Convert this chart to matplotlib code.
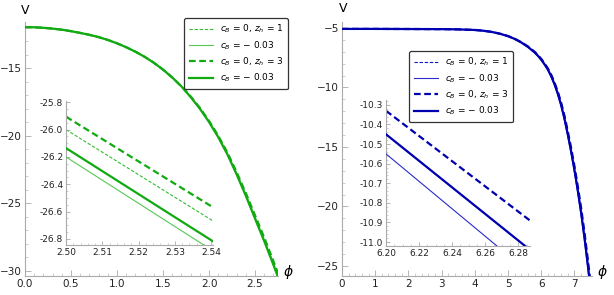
import matplotlib
matplotlib.use("Agg")
import matplotlib.pyplot as plt
from matplotlib.ticker import MultipleLocator, FormatStrFormatter

# ---- data ----
# left panel (green)
phi_L = [0.0, 0.1, 0.2, 0.3, 0.4, 0.5, 0.6, 0.7, 0.8, 0.9, 1.0, 1.1, 1.2, 1.3, 1.4,
         1.5, 1.6, 1.7, 1.8, 1.9, 2.0, 2.1, 2.2, 2.3, 2.4, 2.5, 2.6, 2.7, 2.8]
V_L_z3 = [-11.95, -11.963, -12.00, -12.06, -12.14, -12.25, -12.38, -12.52, -12.69, -12.90,
          -13.15, -13.44, -13.77, -14.15, -14.59, -15.10, -15.68, -16.34, -17.08, -17.93,
          -18.90, -20.00, -21.25, -22.70, -24.25, -25.90, -27.55, -29.30, -31.10]
V_L_z1 = [-11.95, -11.963, -12.00, -12.06, -12.14, -12.25, -12.38, -12.52, -12.69, -12.90,
          -13.15, -13.44, -13.77, -14.15, -14.59, -15.10, -15.68, -16.34, -17.10, -17.96,
          -18.94, -20.05, -21.31, -22.77, -24.33, -26.00, -27.66, -29.41, -31.22]
V_L_z3c = [-11.95, -11.963, -12.00, -12.06, -12.14, -12.25, -12.38, -12.52, -12.69, -12.90,
           -13.15, -13.44, -13.77, -14.15, -14.59, -15.10, -15.68, -16.34, -17.13, -17.99,
           -18.98, -20.10, -21.38, -22.86, -24.44, -26.13, -27.80, -29.56, -31.38]
V_L_z1c = [-11.95, -11.963, -12.00, -12.06, -12.14, -12.25, -12.38, -12.52, -12.69, -12.90,
           -13.15, -13.44, -13.77, -14.15, -14.59, -15.10, -15.68, -16.34, -17.14, -18.01,
           -19.01, -20.14, -21.42, -22.90, -24.50, -26.20, -27.87, -29.64, -31.46]

ins_phi_L = [2.50, 2.5415]
ins_L_z1 = [-26.000, -26.685]
ins_L_z1c = [-26.200, -26.905]
ins_L_z3 = [-25.905, -26.585]
ins_L_z3c = [-26.135, -26.835]

# right panel (blue)
phi_R = [0.0, 1.0, 2.0, 3.0, 3.5, 4.0, 4.25, 4.5, 4.75, 5.0, 5.2, 5.4, 5.6, 5.8, 5.9,
         6.0, 6.1, 6.2, 6.3, 6.4, 6.5, 6.6, 6.7, 6.8, 6.9, 7.0, 7.1, 7.2, 7.3, 7.4, 7.5]
V_R_z3 = [-5.08, -5.08, -5.09, -5.10, -5.12, -5.17, -5.23, -5.33, -5.48, -5.68, -5.91, -6.20,
          -6.56, -7.00, -7.28, -7.60, -7.98, -8.40, -8.93, -9.58, -10.36, -11.28, -12.38,
          -13.68, -15.08, -16.60, -18.28, -20.10, -22.13, -24.38, -26.78]
V_R_z3c = [-5.08, -5.08, -5.09, -5.10, -5.12, -5.17, -5.23, -5.33, -5.48, -5.69, -5.92, -6.22,
           -6.59, -7.05, -7.33, -7.66, -8.05, -8.49, -9.04, -9.71, -10.51, -11.46, -12.60,
           -13.92, -15.34, -16.89, -18.60, -20.45, -22.52, -24.80, -27.21]
V_R_z1 = [-5.08, -5.08, -5.09, -5.10, -5.12, -5.17, -5.23, -5.33, -5.48, -5.69, -5.92, -6.22,
          -6.59, -7.05, -7.33, -7.66, -8.05, -8.49, -9.04, -9.71, -10.51, -11.46, -12.60,
          -13.92, -15.34, -16.89, -18.60, -20.45, -22.52, -24.80, -27.21]
V_R_z1c = [-5.08, -5.08, -5.09, -5.10, -5.12, -5.17, -5.23, -5.33, -5.48, -5.69, -5.93, -6.24,
           -6.62, -7.09, -7.38, -7.72, -8.12, -8.56, -9.13, -9.82, -10.65, -11.62, -12.79,
           -14.14, -15.57, -17.14, -18.88, -20.76, -22.86, -25.17, -27.60]

ins_phi_R = [6.20, 6.287]
ins_R_z1 = [-10.45, -11.04]
ins_R_z1c = [-10.55, -11.16]
ins_R_z3 = [-10.33, -10.89]
ins_R_z3c = [-10.45, -11.04]

labels = [r"$c_B$ = 0, $z_h$ = 1", r"$c_B$ = − 0.03", r"$c_B$ = 0, $z_h$ = 3", r"$c_B$ = − 0.03"]

W, H = 614, 295
fig = plt.figure(figsize=(W / 100, H / 100), dpi=100)


def box(x0, y0, x1, y1):
    # pixel box -> figure fraction
    return [x0 / W, 1 - y1 / H, (x1 - x0) / W, (y1 - y0) / H]


def style(ax, fs, maj, mino):
    for s in ("top", "right"):
        ax.spines[s].set_visible(False)
    for s in ("left", "bottom"):
        ax.spines[s].set_color("#aaaaaa")
        ax.spines[s].set_linewidth(0.8)
    ax.tick_params(which="major", direction="in", length=maj, width=0.6,
                   color="#aaaaaa", labelsize=fs, labelcolor="#222222", pad=2)
    ax.tick_params(which="minor", direction="in", length=mino, width=0.5, color="#bbbbbb")
    ax.patch.set_alpha(0)


def draw(ax, x, ys, colors, lws, dashed):
    lines = []
    for y, c, lw, d in zip(ys, colors, lws, dashed):
        ln, = ax.plot(x, y, color=c, lw=lw, ls=(0, (3, 1.6)) if d else "-",
                      zorder=2 if d else 3, solid_joinstyle="round")
        lines.append(ln)
    return lines


def legend(ax, handles, x, y):
    lg = ax.legend(handles, labels, loc="upper left", bbox_to_anchor=(x, y),
                   borderaxespad=0, fontsize=6.5, frameon=True, fancybox=True,
                   handlelength=2.7, borderpad=0.55, labelspacing=0.42,
                   handletextpad=0.7, framealpha=1)
    lg.get_frame().set_edgecolor("#333333")
    lg.get_frame().set_linewidth(0.9)
    return lg


g_cols = ["#33bb33", "#55c855", "#11aa11", "#11aa11"]
b_cols = ["#1515c0", "#2a2ad0", "#0000b0", "#0000b0"]
lws = [0.8, 0.8, 1.6, 1.6]
dsh = [True, False, True, False]

# ---- left main ----
axL = fig.add_axes(box(25, 22, 278, 276))
style(axL, 7.5, 4, 2)
hL = draw(axL, phi_L, [V_L_z1, V_L_z1c, V_L_z3, V_L_z3c], g_cols, lws, dsh)
axL.set_xlim(0, 2.75)
axL.set_ylim(-30.4, -11.57)
axL.xaxis.set_major_locator(MultipleLocator(0.5))
axL.xaxis.set_minor_locator(MultipleLocator(0.1))
axL.yaxis.set_major_locator(MultipleLocator(5))
axL.yaxis.set_minor_locator(MultipleLocator(1))
axL.xaxis.set_major_formatter(FormatStrFormatter("%.1f"))
fig.text(25 / W, 1 - 11 / H, "V", fontsize=9, ha="center", va="center")
fig.text(288 / W, 1 - 272 / H, r"$\phi$", fontsize=10, ha="center", va="center")
legend(axL, hL, (184 - 25) / 253, 1 + 4 / 254)

# ---- left inset ----
axLi = fig.add_axes(box(66, 101, 213, 245))
style(axLi, 6.5, 3, 1.5)
draw(axLi, ins_phi_L, [ins_L_z1, ins_L_z1c, ins_L_z3, ins_L_z3c], g_cols, lws, dsh)
axLi.set_xlim(2.5, 2.5405)
axLi.set_ylim(-26.845, -25.79)
axLi.xaxis.set_major_locator(MultipleLocator(0.01))
axLi.xaxis.set_minor_locator(MultipleLocator(0.002))
axLi.yaxis.set_major_locator(MultipleLocator(0.2))
axLi.yaxis.set_minor_locator(MultipleLocator(0.05))
axLi.xaxis.set_major_formatter(FormatStrFormatter("%.2f"))
axLi.yaxis.set_major_formatter(FormatStrFormatter("%.1f"))

# ---- right main ----
axR = fig.add_axes(box(342, 22, 592, 276))
style(axR, 7.5, 4, 2)
hR = draw(axR, phi_R, [V_R_z1, V_R_z1c, V_R_z3, V_R_z3c], b_cols, lws, dsh)
axR.set_xlim(0, 7.53)
axR.set_ylim(-25.85, -4.5)
axR.xaxis.set_major_locator(MultipleLocator(1))
axR.xaxis.set_minor_locator(MultipleLocator(0.2))
axR.yaxis.set_major_locator(MultipleLocator(5))
axR.yaxis.set_minor_locator(MultipleLocator(1))
fig.text(343 / W, 1 - 9 / H, "V", fontsize=9, ha="center", va="center")
fig.text(602 / W, 1 - 272 / H, r"$\phi$", fontsize=10, ha="center", va="center")
legend(axR, hR, (409 - 342) / 250, 1 - 29 / 254)

# ---- right inset ----
axRi = fig.add_axes(box(386, 100, 530, 246))
style(axRi, 6.5, 3, 1.5)
draw(axRi, ins_phi_R, [ins_R_z1, ins_R_z1c, ins_R_z3, ins_R_z3c], b_cols, lws, dsh)
axRi.set_xlim(6.2, 6.287)
axRi.set_ylim(-11.02, -10.275)
axRi.xaxis.set_major_locator(MultipleLocator(0.02))
axRi.xaxis.set_minor_locator(MultipleLocator(0.005))
axRi.yaxis.set_major_locator(MultipleLocator(0.1))
axRi.yaxis.set_minor_locator(MultipleLocator(0.02))
axRi.xaxis.set_major_formatter(FormatStrFormatter("%.2f"))
axRi.yaxis.set_major_formatter(FormatStrFormatter("%.1f"))

fig.savefig("out.png", dpi=100)
